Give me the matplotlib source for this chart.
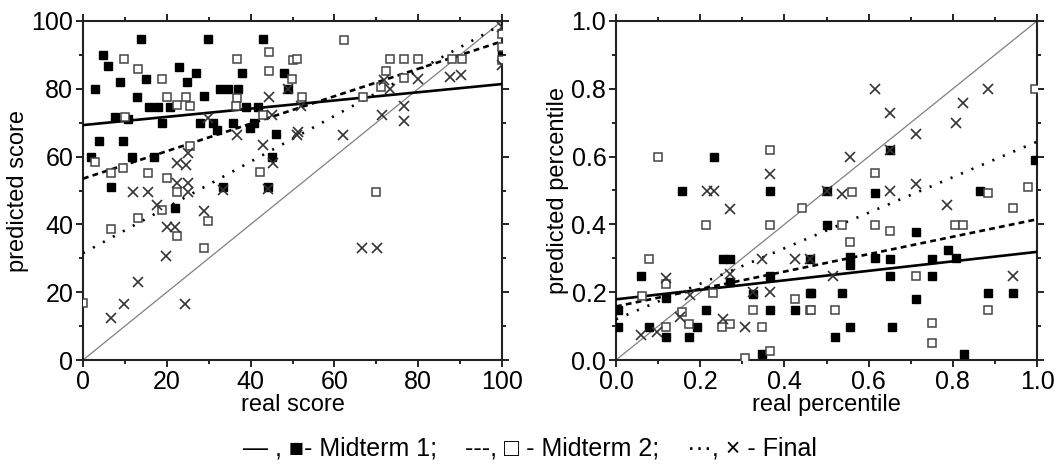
import matplotlib
matplotlib.use("Agg")
import matplotlib.pyplot as plt
from matplotlib.ticker import MultipleLocator
import numpy as np

plt.rcParams['font.family'] = ['Liberation Sans', 'DejaVu Sans']

# ---- left panel: score ----
m1_score_x = [13.8, 29.9, 42.9, 4.8, 6.0, 22.9, 27.0, 38.0, 48.0, 8.8, 15.0, 24.9, 2.9, 28.9,
              32.7, 34.7, 37.1, 49.0, 13.0, 15.8, 17.8, 20.8, 38.8, 41.8, 7.6, 10.8, 18.8, 27.9,
              31.1, 31.9, 35.9, 39.9, 40.9, 46.1, 3.9, 9.6, 1.9, 11.8, 16.9, 45.0, 6.8, 33.5,
              44.2, 22.0, 100.0]
m1_score_y = [94.7, 94.7, 94.7, 90.0, 86.8, 86.5, 84.8, 84.8, 84.8, 81.9, 82.8, 81.9, 79.9, 77.8,
              79.8, 79.8, 79.8, 79.8, 77.5, 74.7, 74.7, 74.7, 74.7, 74.7, 71.8, 71.1, 69.8, 69.8,
              69.8, 67.7, 69.8, 68.4, 69.8, 66.8, 64.7, 64.7, 60.0, 60.0, 60.0, 60.0, 50.9, 50.9,
              50.9, 44.7, 90.0]

m2_score_x = [9.9, 13.2, 18.8, 36.7, 44.5, 44.5, 50.2, 49.8, 20.1, 22.4, 24.6, 25.5, 36.7, 36.5,
              10.0, 42.9, 2.9, 6.8, 9.6, 15.6, 25.5, 42.2, 20.1, 22.4, 18.8, 13.2, 6.6, 29.9,
              22.4, 28.9, 0.0, 62.3, 51.1, 52.2, 73.3, 76.6, 80.0, 72.3, 76.6, 71.1, 66.9, 88.0,
              90.4, 70.0, 100.0, 100.0, 100.0]
m2_score_y = [88.8, 85.8, 83.0, 88.8, 90.9, 85.3, 88.5, 83.0, 77.7, 75.2, 77.7, 74.9, 77.2, 74.9,
              71.8, 72.3, 58.5, 55.3, 56.5, 55.3, 63.1, 55.6, 53.6, 49.7, 44.2, 41.8, 38.5, 40.9,
              36.6, 32.9, 16.8, 94.4, 88.8, 77.7, 88.8, 88.8, 88.8, 85.3, 83.3, 80.4, 77.7, 88.8,
              88.8, 49.7, 96.3, 92.4, 88.5]

fin_score_x = [44.5, 49.0, 45.0, 29.9, 36.7, 43.0, 51.0, 25.1, 22.4, 24.6, 45.4, 12.0, 15.4, 22.4,
               25.1, 25.1, 33.5, 44.2, 17.7, 28.9, 20.0, 21.9, 19.8, 13.2, 9.8, 6.6, 24.3, 66.5,
               70.1, 52.0, 51.4, 62.1, 71.3, 76.6, 76.6, 71.9, 73.3, 80.0, 87.6, 90.2, 100.0, 100.0]
fin_score_y = [77.5, 79.8, 72.3, 71.3, 66.4, 63.4, 66.4, 61.0, 58.0, 57.5, 58.0, 49.6, 49.6, 52.1,
               52.1, 49.6, 50.1, 50.5, 45.7, 44.1, 39.3, 39.3, 30.7, 23.1, 16.4, 12.3, 16.4, 32.9,
               32.9, 74.9, 67.3, 66.4, 72.3, 74.9, 70.6, 82.6, 79.8, 83.0, 83.4, 84.0, 98.3, 87.0]

# fitted lines (intercept, slope)
score_fits = [(69.3, 0.121), (53.5, 0.405), (31.5, 0.675)]

# ---- right panel: percentile ----
m1_pct_x = [0.156, 0.233, 0.366, 0.652, 0.500, 0.615, 0.865, 0.995, 0.059, 0.119, 0.255, 0.271,
            0.271, 0.366, 0.461, 0.461, 0.425, 0.326, 0.366, 0.214, 0.193, 0.174, 0.079, 0.119,
            0.346, 0.005, 0.005, 0.500, 0.712, 0.557, 0.557, 0.615, 0.652, 0.652, 0.751, 0.751,
            0.789, 0.808, 0.462, 0.538, 0.712, 0.557, 0.655, 0.520, 0.827, 0.884, 0.942]
m1_pct_y = [0.499, 0.600, 0.499, 0.619, 0.499, 0.492, 0.499, 0.590, 0.248, 0.182, 0.298, 0.298,
            0.231, 0.248, 0.298, 0.197, 0.147, 0.195, 0.147, 0.147, 0.098, 0.069, 0.098, 0.069,
            0.018, 0.147, 0.098, 0.398, 0.379, 0.305, 0.280, 0.300, 0.298, 0.248, 0.248, 0.298,
            0.324, 0.300, 0.197, 0.197, 0.179, 0.098, 0.098, 0.069, 0.018, 0.197, 0.197]

m2_pct_x = [0.099, 0.366, 0.615, 0.560, 0.884, 0.979, 0.995, 0.214, 0.366, 0.441, 0.079, 0.119,
            0.061, 0.425, 0.461, 0.326, 0.231, 0.156, 0.174, 0.251, 0.271, 0.346, 0.119, 0.306,
            0.366, 0.538, 0.615, 0.652, 0.805, 0.825, 0.942, 0.557, 0.712, 0.462, 0.520, 0.751,
            0.751, 0.884]
m2_pct_y = [0.600, 0.619, 0.551, 0.497, 0.492, 0.509, 0.800, 0.398, 0.398, 0.447, 0.298, 0.224,
            0.189, 0.179, 0.147, 0.147, 0.197, 0.143, 0.106, 0.098, 0.106, 0.098, 0.098, 0.005,
            0.027, 0.398, 0.398, 0.380, 0.398, 0.398, 0.447, 0.347, 0.248, 0.147, 0.147, 0.108,
            0.049, 0.147]

fin_pct_x = [0.215, 0.233, 0.366, 0.615, 0.652, 0.884, 0.825, 0.808, 0.712, 0.652, 0.557, 0.500,
             0.538, 0.652, 0.712, 0.271, 0.119, 0.271, 0.346, 0.425, 0.461, 0.326, 0.366, 0.176,
             0.152, 0.255, 0.306, 0.059, 0.097, 0.786, 0.516, 0.942]
fin_pct_y = [0.499, 0.499, 0.549, 0.799, 0.728, 0.799, 0.757, 0.698, 0.668, 0.619, 0.600, 0.499,
             0.490, 0.499, 0.519, 0.445, 0.241, 0.253, 0.298, 0.298, 0.298, 0.200, 0.200, 0.192,
             0.128, 0.120, 0.098, 0.074, 0.083, 0.457, 0.248, 0.248]

pct_fits = [(0.179, 0.140), (0.158, 0.257), (0.120, 0.524)]

line_styles = ['-', (0, (2.2, 1.6)), (0, (0.8, 3.5))]


def draw_panel(ax, series, fits, lim, major, minor, xlabel, ylabel, fmt):
    xs = np.array([0, lim])
    ax.plot(xs, xs, color='#808080', lw=0.9, zorder=1)
    for (b, m), ls in zip(fits, line_styles):
        ax.plot(xs, b + m * xs, color='black', lw=1.9, ls=ls, zorder=3)
    (x1, y1), (x2, y2), (x3, y3) = series
    ax.plot(x1, y1, 's', ms=6, mfc='black', mec='black', ls='none', zorder=4)
    ax.plot(x2, y2, 's', ms=5.5, mfc='white', mec='#444444', mew=1.1, ls='none', zorder=4)
    ax.plot(x3, y3, 'x', ms=7, mec='#333333', mew=1.2, ls='none', zorder=5)
    ax.set_xlim(0, lim)
    ax.set_ylim(0, lim)
    for axis in (ax.xaxis, ax.yaxis):
        axis.set_major_locator(MultipleLocator(major))
        axis.set_minor_locator(MultipleLocator(minor))
        axis.set_major_formatter(fmt)
    ax.tick_params(which='both', direction='out', top=True, right=True,
                   labelsize=18, width=1.2, pad=2)
    ax.tick_params(which='major', length=5)
    ax.tick_params(which='minor', length=3)
    for s in ax.spines.values():
        s.set_linewidth(1.5)
        s.set_color('#222222')
    ax.set_xlabel(xlabel, fontsize=17, labelpad=0)
    ax.set_ylabel(ylabel, fontsize=17, labelpad=2)


fig = plt.figure(figsize=(10.6, 4.7), dpi=100)
ax1 = fig.add_axes([83 / 1060, 110 / 470, 419 / 1060, 339 / 470])
ax2 = fig.add_axes([616 / 1060, 110 / 470, 421 / 1060, 339 / 470])

draw_panel(ax1, [(m1_score_x, m1_score_y), (m2_score_x, m2_score_y), (fin_score_x, fin_score_y)],
           score_fits, 100, 20, 10, 'real score', 'predicted score', '{x:.0f}')
draw_panel(ax2, [(m1_pct_x, m1_pct_y), (m2_pct_x, m2_pct_y), (fin_pct_x, fin_pct_y)],
           pct_fits, 1.0, 0.2, 0.1, 'real percentile', 'predicted percentile', '{x:.1f}')

fig.text(0.5, 0.045, '\u2014 , \u25a0- Midterm 1;    ---, \u25a1 - Midterm 2;    \u00b7\u00b7\u00b7, \u00d7 - Final',
         ha='center', va='center', fontsize=18)

fig.savefig('out.png', dpi=100)
